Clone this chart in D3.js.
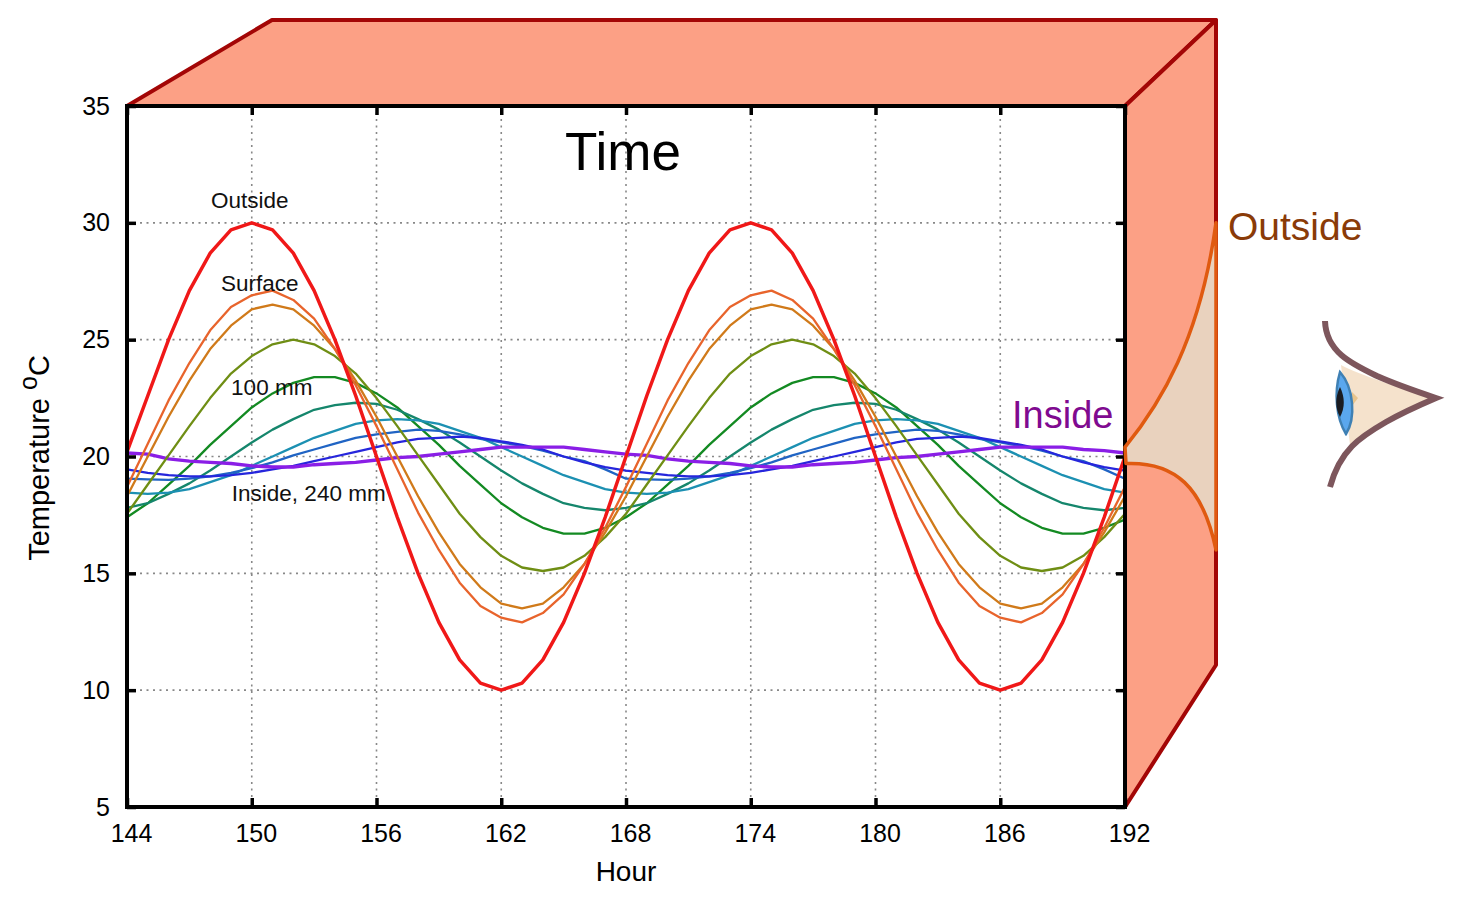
<!DOCTYPE html>
<html>
<head>
<meta charset="utf-8">
<script src="https://cdn.jsdelivr.net/npm/d3@7"></script>
<style>
body{margin:0;background:#fff}
text{font-family:"Liberation Sans",Arial,sans-serif}
</style>
</head>
<body>
<div class="wall"></div>
<script>
var hours = d3.range(144,193)
var xTicks = [144,150,156,162,168,174,180,186,192]
var yTicks = [5,10,15,20,25,30,35]

var outside = [20.2,22.6,25,27.1,28.7,29.7,30,29.7,28.7,27.1,25,22.6,20,17.4,15,12.9,11.3,10.3,10,10.3,11.3,12.9,15,17.4,20,22.6,25,27.1,28.7,29.7,30,29.7,28.7,27.1,25,22.6,20,17.4,15,12.9,11.3,10.3,10,10.3,11.3,12.9,15,17.4,20]
var surface = [18.7,20.55,22.4,24,25.4,26.4,26.9,27.1,26.7,25.9,24.6,23.05,21.3,19.45,17.6,16,14.6,13.6,13.1,12.9,13.3,14.1,15.4,16.95,18.7,20.55,22.4,24,25.4,26.4,26.9,27.1,26.7,25.9,24.6,23.05,21.3,19.45,17.6,16,14.6,13.6,13.1,12.9,13.3,14.1,15.4,16.95,18.7]
var depth1 = [18.3,20,21.7,23.25,24.6,25.6,26.3,26.5,26.3,25.6,24.6,23.25,21.7,20,18.3,16.75,15.4,14.4,13.7,13.5,13.7,14.4,15.4,16.75,18.3,20,21.7,23.25,24.6,25.6,26.3,26.5,26.3,25.6,24.6,23.25,21.7,20,18.3,16.75,15.4,14.4,13.7,13.5,13.7,14.4,15.4,16.75,18.3]
var depth2 = [17.55,18.8,20.05,21.3,22.5,23.55,24.3,24.8,25,24.8,24.3,23.55,22.5,21.3,20.05,18.8,17.55,16.55,15.75,15.25,15.1,15.25,15.75,16.55,17.55,18.8,20.05,21.3,22.5,23.55,24.3,24.8,25,24.8,24.3,23.55,22.5,21.3,20.05,18.8,17.55,16.55,15.75,15.25,15.1,15.25,15.75,16.55,17.55]
var depth3 = [17.4,18,18.8,19.6,20.5,21.3,22.1,22.7,23.15,23.4,23.4,23.15,22.7,22.1,21.3,20.5,19.6,18.8,18,17.4,16.95,16.7,16.7,16.95,17.4,18,18.8,19.6,20.5,21.3,22.1,22.7,23.15,23.4,23.4,23.15,22.7,22.1,21.3,20.5,19.6,18.8,18,17.4,16.95,16.7,16.7,16.95,17.3]
var depth4 = [17.8,18,18.4,18.85,19.4,20,20.6,21.15,21.6,22,22.2,22.3,22.25,22,21.6,21.15,20.6,20,19.4,18.85,18.4,18,17.8,17.7,17.8,18,18.4,18.85,19.4,20,20.6,21.15,21.6,22,22.2,22.3,22.25,22,21.6,21.15,20.6,20,19.4,18.85,18.4,18,17.8,17.7,17.8]
var depth5 = [18.45,18.4,18.45,18.6,18.9,19.2,19.6,20,20.4,20.8,21.1,21.4,21.55,21.6,21.55,21.4,21.1,20.8,20.4,20,19.6,19.2,18.9,18.6,18.45,18.4,18.45,18.6,18.9,19.2,19.6,20,20.4,20.8,21.1,21.4,21.55,21.6,21.55,21.4,21.1,20.8,20.4,20,19.6,19.2,18.9,18.6,18.45]
var depth6 = [19.05,19.02,19,19.05,19.15,19.3,19.5,19.75,20.05,20.3,20.55,20.8,20.95,21.05,21.15,21.1,20.95,20.75,20.6,20.45,20.25,20,19.8,19.45,19.05,19.02,19,19.05,19.15,19.3,19.5,19.75,20.05,20.3,20.55,20.8,20.95,21.05,21.15,21.1,20.95,20.75,20.6,20.45,20.25,20,19.8,19.45,19.05]
var depth7 = [19.45,19.3,19.2,19.15,19.15,19.2,19.3,19.45,19.6,19.8,20,20.2,20.4,20.6,20.75,20.8,20.85,20.8,20.65,20.5,20.3,20,19.75,19.55,19.4,19.3,19.2,19.15,19.15,19.2,19.3,19.45,19.6,19.8,20,20.2,20.4,20.6,20.75,20.8,20.85,20.8,20.65,20.5,20.3,20,19.75,19.55,19.4]
var inside = [20.15,20.1,19.9,19.8,19.75,19.7,19.6,19.55,19.55,19.65,19.7,19.75,19.85,19.95,20,20.1,20.2,20.3,20.4,20.4,20.4,20.4,20.3,20.2,20.1,20.05,19.9,19.8,19.75,19.7,19.6,19.55,19.55,19.65,19.7,19.75,19.85,19.95,20,20.1,20.2,20.3,20.4,20.4,20.4,20.4,20.3,20.25,20.15]

// back to front
var lines = [
	{values:depth3,color:"#138a22",w:2.3},
	{values:depth4,color:"#15866c",w:2.3},
	{values:depth5,color:"#1c90b2",w:2.3},
	{values:depth6,color:"#2064c4",w:2.3},
	{values:depth7,color:"#2626dc",w:2.3},
	{values:inside,color:"#8a1ee6",w:3.4},
	{values:depth2,color:"#6f8e14",w:2.3},
	{values:depth1,color:"#d07a1a",w:2.3},
	{values:surface,color:"#e8642c",w:2.3},
	{values:outside,color:"#f01818",w:3.5}
]

var chartLabels = [
	{text:"Outside",hour:150,temp:30.65,size:22.5,dx:-2},
	{text:"Surface",hour:150,temp:27.1,size:22.5,dx:8},
	{text:"100 mm",hour:150,temp:22.65,size:22.5,dx:20},
	{text:"Inside, 240 mm",hour:150,temp:18.1,size:22.5,dx:57}
]

var width = 1460, height = 902
var left = 127, right = 1125, top_ = 106, bottom = 807
var depthX = 91, depthY = 86

var svg = d3.select(".wall").append("svg").attr("width",width).attr("height",height).style("display","block")

var x = d3.scaleLinear().domain([144,192]).range([left,right])
var y = d3.scaleLinear().domain([5,35]).range([bottom,top_])

// box faces behind the plot
var wallFill = "#fca085", wallStroke = "#a30606"
svg.append("path")
.attr("d","M"+left+" "+top_+" L"+(left+145)+" "+(top_-depthY)+" L"+(right+depthX)+" "+(top_-depthY)+" L"+right+" "+top_+" Z")
.attr("fill",wallFill).attr("stroke",wallStroke).attr("stroke-width",4).attr("stroke-linejoin","round")
svg.append("path")
.attr("d","M"+right+" "+top_+" L"+(right+depthX)+" "+(top_-depthY)+" L"+(right+depthX)+" 665 L"+right+" "+bottom+" Z")
.attr("fill",wallFill).attr("stroke",wallStroke).attr("stroke-width",4).attr("stroke-linejoin","round")

svg.append("rect").attr("x",left).attr("y",top_).attr("width",right-left).attr("height",bottom-top_).attr("fill","#fff")

// grid
var grid = svg.append("g")
grid.selectAll(".gx").data(xTicks.slice(1,-1)).enter().append("line")
.attr("x1",function(d){return x(d)}).attr("x2",function(d){return x(d)})
.attr("y1",top_).attr("y2",bottom)
.attr("stroke","#888").attr("stroke-width",1.6).attr("stroke-dasharray","2 4.5")
grid.selectAll(".gy").data(yTicks.slice(1,-1)).enter().append("line")
.attr("x1",left).attr("x2",right)
.attr("y1",function(d){return y(d)}).attr("y2",function(d){return y(d)})
.attr("stroke","#888").attr("stroke-width",1.6).attr("stroke-dasharray","2 4.5")

// curves
var line = d3.line().x(function(d,i){return x(hours[i])}).y(function(d){return y(d)})
svg.append("g").selectAll("path").data(lines).enter().append("path")
.attr("d",function(d){return line(d.values)})
.attr("fill","none")
.attr("stroke",function(d){return d.color})
.attr("stroke-width",function(d){return d.w})
.attr("stroke-linejoin","round")

// axes, ticks inward on all four sides
function styleAxis(g){
	g.select(".domain").remove()
	g.selectAll("line").attr("stroke","#000").attr("stroke-width",3.5)
	g.selectAll("text").attr("font-size",25).attr("fill","#000").style("font-family",'"Liberation Sans",Arial,sans-serif')
}
svg.append("g").attr("transform","translate(0,"+bottom+")")
.call(d3.axisBottom(x).tickValues(xTicks).tickSize(-9).tickPadding(17)).call(styleAxis)
.selectAll("text").attr("dx",4)
svg.append("g").attr("transform","translate(0,"+top_+")")
.call(d3.axisTop(x).tickValues(xTicks).tickSize(-9).tickFormat("")).call(styleAxis)
svg.append("g").attr("transform","translate("+left+",0)")
.call(d3.axisLeft(y).tickValues(yTicks).tickSize(-9).tickPadding(17)).call(styleAxis)
svg.append("g").attr("transform","translate("+right+",0)")
.call(d3.axisRight(y).tickValues(yTicks).tickSize(-9).tickFormat("")).call(styleAxis)

svg.append("rect").attr("x",left).attr("y",top_).attr("width",right-left).attr("height",bottom-top_)
.attr("fill","none").attr("stroke","#000").attr("stroke-width",4)

// titles
svg.append("text").attr("x",626).attr("y",881).attr("text-anchor","middle").attr("font-size",28).text("Hour")
var yTitle = svg.append("text").attr("transform","translate(49,458) rotate(-90)").attr("text-anchor","middle").attr("font-size",29)
yTitle.append("tspan").text("Temperature ")
yTitle.append("tspan").attr("dy",-12).attr("font-size",25).text("o")
yTitle.append("tspan").attr("dy",12).text("C")
svg.append("text").attr("x",623).attr("y",170).attr("text-anchor","middle").attr("font-size",53).text("Time")

svg.append("g").selectAll("text").data(chartLabels).enter().append("text")
.attr("x",function(d){return x(d.hour)+d.dx})
.attr("y",function(d){return y(d.temp)})
.attr("text-anchor","middle")
.attr("font-size",function(d){return d.size})
.attr("fill","#111")
.text(function(d){return d.text})

// wedge on the side wall, from Inside at the plot edge to Outside on the far edge
var wx = right+depthX
svg.append("path")
.attr("d","M"+right+" "+y(20.4)
	+" C"+(right+35)+" "+(y(20.4)-43)+" "+(right+75)+" "+(y(30)+117)+" "+wx+" "+y(30)
	+" L"+wx+" "+y(16)
	+" C"+(wx-13)+" "+(y(16)-63)+" "+(right+50)+" "+(y(19.7)-2)+" "+(right+1)+" "+y(19.7)+" Z")
.attr("fill","#e9d2be").attr("stroke","#e05a10").attr("stroke-width",3.5).attr("stroke-linejoin","round")

svg.append("text").attr("x",1228).attr("y",240).attr("font-size",39).attr("fill","#8a3b08").text("Outside")
svg.append("text").attr("x",1012).attr("y",428).attr("font-size",38).attr("fill","#800a90").text("Inside")

// eye
var eye = svg.append("g")
eye.append("path").attr("d","M1341 365 C1360 375 1400 388 1434 398 C1405 410 1375 425 1350 445 Z").attr("fill","#f5e2cc")
eye.append("path").attr("d","M1352 392 L1358 398 L1352 406 Z").attr("fill","#e8c48c")
eye.append("path").attr("d","M1340 372 C1334 392 1336 418 1346 434 C1356 418 1354 388 1340 372 Z")
.attr("fill","#5aa7ee").attr("stroke","#3f80b4").attr("stroke-width",2.5)
eye.append("path").attr("d","M1340 387 C1335 397 1335 408 1340 417 C1345 408 1345 397 1340 387 Z").attr("fill","#1a1c22")
eye.append("path").attr("d","M1325 321 C1326 352 1352 364 1377 376 C1395 384 1415 391 1436 398 C1415 407 1400 414 1386 422 C1360 437 1340 450 1330 487")
.attr("fill","none").attr("stroke","#7d565c").attr("stroke-width",6).attr("stroke-linejoin","miter")
</script>
</body>
</html>
